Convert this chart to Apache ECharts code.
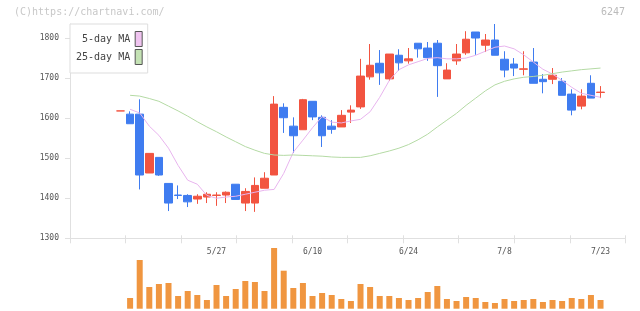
<!DOCTYPE html>
<html>
<head>
<meta charset="utf-8">
<script src="https://cdn.jsdelivr.net/npm/echarts@6/dist/echarts.min.js"></script>
<style>
  html, body { margin: 0; padding: 0; background: #fff; }
  #chart { width: 640px; height: 311px; }
</style>
</head>
<body>
<div id="chart"></div>
<script>
// trading days, 2019/5/13 .. 7/23
var dates = ['5/13','5/14','5/15','5/16','5/17','5/20','5/21','5/22','5/23','5/24',
  '5/27','5/28','5/29','5/30','5/31','6/3','6/4','6/5','6/6','6/7',
  '6/10','6/11','6/12','6/13','6/14','6/17','6/18','6/19','6/20','6/21',
  '6/24','6/25','6/26','6/27','6/28','7/1','7/2','7/3','7/4','7/5',
  '7/8','7/9','7/10','7/11','7/12','7/16','7/17','7/18','7/19','7/22',
  '7/23'];
var opens  = [1618,1610,1610,1463,1502,1437,1408,1407,1398,1403,1407,1408,1435,1388,1388,1425,1458,1627,1580,1571,
  1642,1602,1580,1578,1615,1628,1703,1737,1698,1757,1743,1787,1775,1787,1698,1743,1763,1815,1782,1795,
  1747,1735,1722,1740,1697,1697,1692,1660,1630,1687,1664];
var closes = [1618,1586,1458,1512,1458,1388,1407,1391,1405,1410,1408,1415,1397,1417,1432,1450,1635,1601,1556,1646,
  1603,1556,1572,1607,1620,1705,1732,1713,1760,1738,1748,1773,1751,1731,1720,1760,1797,1800,1795,1757,
  1720,1725,1723,1687,1691,1707,1657,1620,1655,1650,1665];
var lows   = [1618,1586,1422,1463,1456,1368,1398,1378,1386,1388,1381,1388,1397,1368,1366,1425,1458,1563,1513,1571,
  1595,1528,1561,1578,1588,1623,1696,1683,1693,1718,1736,1751,1743,1653,1698,1733,1758,1758,1765,1757,
  1702,1705,1707,1687,1662,1685,1657,1607,1622,1650,1650];
var highs  = [1618,1617,1647,1512,1502,1437,1432,1410,1410,1415,1415,1417,1435,1425,1452,1465,1655,1637,1602,1648,
  1642,1607,1595,1620,1632,1748,1785,1770,1760,1772,1775,1787,1790,1795,1737,1785,1817,1815,1810,1835,
  1767,1750,1767,1775,1710,1725,1700,1672,1672,1707,1680];
var volumes = [null,107,487,217,247,257,127,177,137,87,237,127,197,277,267,177,607,380,207,257,
  127,157,137,97,77,247,217,127,127,107,87,107,167,227,97,77,117,107,67,57,
  97,77,87,97,67,87,77,107,97,137,87];
var ma5 = [null,1622,1613,1580,1557,1525,1482,1445,1435,1407,1400,1403,1405,1410,1415,1420,1422,1462,1515,1545,
  1576,1604,1590,1588,1593,1597,1616,1652,1694,1721,1733,1741,1749,1751,1748,1748,1750,1757,1767,1777,
  1780,1773,1758,1740,1722,1710,1694,1677,1662,1657,1652];
var ma25 = [null,1657,1655,1649,1642,1630,1618,1605,1591,1578,1566,1553,1541,1529,1520,1512,1508,1507,1508,1507,
  1506,1505,1503,1502,1502,1502,1506,1512,1518,1525,1534,1546,1560,1578,1595,1612,1632,1650,1668,1683,
  1692,1698,1702,1704,1707,1711,1715,1718,1721,1723,1725];
var priceTicks = [1300, 1400, 1500, 1600, 1700, 1800];
var dateLabelIdx = [10, 20, 30, 40, 50];

var xMin = -5.26, xMax = 52.58;
var xTicks = [];
for (var k = 0; k <= 10; k++) xTicks.push(xMin + (xMax - xMin) * k / 10);

var UP = '#f25440', DOWN = '#3f7cf0';
var FONT = 'DejaVu Sans Mono';

var candles = [], vols = [], line5 = [], line25 = [];
for (var i = 0; i < dates.length; i++) {
  candles.push([i, opens[i], closes[i], lows[i], highs[i]]);
  if (volumes[i] != null) vols.push([i, volumes[i]]);
  if (ma5[i] != null) line5.push([i, ma5[i]]);
  if (ma25[i] != null) line25.push([i, ma25[i]]);
}

var chart = echarts.init(document.getElementById('chart'));
chart.setOption({
  animation: false,
  graphic: [
    { type: 'text', left: 14, top: 7, style: { text: '(C)https://chartnavi.com/', fill: '#c8c8c8', font: '10px ' + FONT } },
    { type: 'text', right: 15, top: 7, style: { text: '6247', fill: '#bbbbbb', font: '10px ' + FONT } }
  ],
  legend: {
    left: 70, top: 24, orient: 'vertical', align: 'right',
    padding: [7, 5, 8, 6], itemGap: 2, itemWidth: 7, itemHeight: 15,
    borderColor: '#dddddd', borderWidth: 1, backgroundColor: '#fff',
    textStyle: { fontFamily: FONT, fontSize: 10, color: '#444' },
    data: [
      { name: '5-day MA', icon: 'rect', itemStyle: { color: '#f0c4f0', borderColor: '#555', borderWidth: 1 } },
      { name: '25-day MA', icon: 'rect', itemStyle: { color: '#c4e2b4', borderColor: '#555', borderWidth: 1 } }
    ]
  },
  grid: [
    { left: 70, right: 14.7, top: 24, height: 214.3 },
    { left: 70, right: 14.7, top: 248, bottom: 2.3 }
  ],
  xAxis: [
    {
      type: 'value', gridIndex: 0, min: xMin, max: xMax, position: 'bottom',
      splitLine: { show: false },
      axisLine: { onZero: false, lineStyle: { color: '#e0e0e0' } },
      axisTick: { length: 5, lineStyle: { color: '#e0e0e0' }, customValues: xTicks },
      axisLabel: {
        customValues: dateLabelIdx, margin: 10, fontFamily: FONT, fontSize: 8, color: '#555',
        formatter: function (v) { return dates[Math.round(v)] || ''; }
      }
    },
    {
      type: 'value', gridIndex: 0, min: xMin, max: xMax, position: 'bottom',
      splitLine: { show: false }, axisLine: { show: false, onZero: false }, axisLabel: { show: false },
      axisTick: { inside: true, length: 3, lineStyle: { color: '#e0e0e0' }, customValues: xTicks }
    },
    {
      type: 'value', gridIndex: 1, min: xMin, max: xMax, show: false, splitLine: { show: false }
    }
  ],
  yAxis: [
    {
      type: 'value', gridIndex: 0, min: 1300, max: 1835, position: 'left',
      splitLine: { show: false },
      axisLine: { show: true, onZero: false, lineStyle: { color: '#e0e0e0' } },
      axisTick: { show: true, length: 5, lineStyle: { color: '#e0e0e0' }, customValues: priceTicks },
      axisLabel: {
        customValues: priceTicks, margin: 11, fontFamily: FONT, fontSize: 8, color: '#555',
        formatter: function (v) { return String(v); }
      }
    },
    { type: 'value', gridIndex: 1, min: 0, max: 607, show: false, splitLine: { show: false } }
  ],
  series: [
    {
      name: 'price', type: 'candlestick', xAxisIndex: 0, yAxisIndex: 0,
      encode: { x: 0, y: [1, 2, 3, 4] },
      barWidth: 8,
      itemStyle: { color: UP, color0: DOWN, borderColor: UP, borderColor0: DOWN, borderColorDoji: UP, borderWidth: 1 },
      data: candles
    },
    {
      name: '5-day MA', type: 'line', xAxisIndex: 0, yAxisIndex: 0, showSymbol: false,
      lineStyle: { color: '#e8b4ee', width: 1 }, itemStyle: { color: '#e8b4ee' }, data: line5
    },
    {
      name: '25-day MA', type: 'line', xAxisIndex: 0, yAxisIndex: 0, showSymbol: false,
      lineStyle: { color: '#b4daa4', width: 1 }, itemStyle: { color: '#b4daa4' }, data: line25
    },
    {
      name: 'volume', type: 'bar', xAxisIndex: 2, yAxisIndex: 1, barWidth: 6,
      itemStyle: { color: '#f09640' }, data: vols
    }
  ]
});
</script>
</body>
</html>
